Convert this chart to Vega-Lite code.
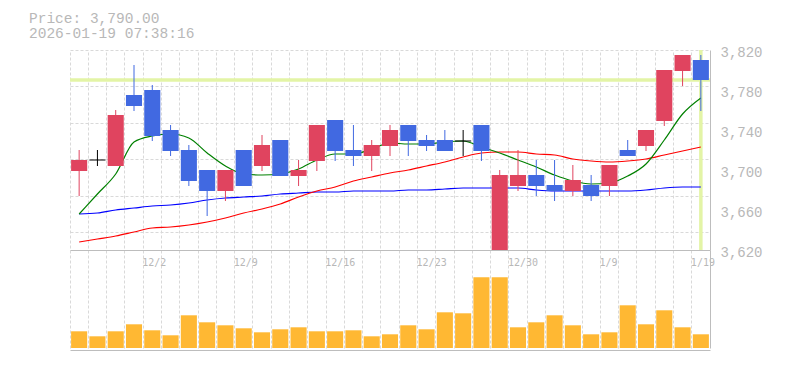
{
  "$schema": "https://vega.github.io/schema/vega-lite/v6.json",
  "width": 640,
  "height": 300,
  "autosize": {"type": "none"},
  "padding": {"left": 70, "top": 50, "right": 75, "bottom": 20},
  "background": "#ffffff",
  "config": {"view": {"stroke": null}},
  "title": {
    "text": ["Price: 3,790.00", "2026-01-19 07:38:16"],
    "anchor": "start",
    "frame": "group",
    "dx": -41,
    "offset": 4,
    "font": "Liberation Mono",
    "fontSize": 14.5,
    "fontWeight": "normal",
    "color": "#b8b8b8",
    "lineHeight": 15
  },
  "data": {
    "values": [
      {"d": "11/26", "o": 3699, "h": 3720, "l": 3674, "c": 3710, "v": 16700, "ma5": 3656, "ma25": 3628, "ma75": 3656},
      {"d": "11/27", "o": 3710, "h": 3720, "l": 3704, "c": 3710, "v": 11700, "ma5": 3676, "ma25": 3631, "ma75": 3657},
      {"d": "11/28", "o": 3704, "h": 3760, "l": 3704, "c": 3755, "v": 16700, "ma5": 3696, "ma25": 3634, "ma75": 3660},
      {"d": "12/1", "o": 3775, "h": 3805, "l": 3759, "c": 3764, "v": 23700, "ma5": 3728, "ma25": 3638, "ma75": 3662},
      {"d": "12/2", "o": 3780, "h": 3785, "l": 3729, "c": 3734, "v": 17700, "ma5": 3734, "ma25": 3642, "ma75": 3664},
      {"d": "12/3", "o": 3740, "h": 3745, "l": 3714, "c": 3719, "v": 12700, "ma5": 3736, "ma25": 3643, "ma75": 3665},
      {"d": "12/4", "o": 3720, "h": 3725, "l": 3684, "c": 3689, "v": 32700, "ma5": 3732, "ma25": 3645, "ma75": 3667},
      {"d": "12/5", "o": 3700, "h": 3700, "l": 3654, "c": 3679, "v": 25700, "ma5": 3717, "ma25": 3648, "ma75": 3670},
      {"d": "12/8", "o": 3679, "h": 3700, "l": 3669, "c": 3700, "v": 22700, "ma5": 3704, "ma25": 3652, "ma75": 3672},
      {"d": "12/9", "o": 3720, "h": 3720, "l": 3684, "c": 3684, "v": 19700, "ma5": 3696, "ma25": 3657, "ma75": 3673},
      {"d": "12/10", "o": 3704, "h": 3735, "l": 3699, "c": 3725, "v": 15700, "ma5": 3695, "ma25": 3661, "ma75": 3674},
      {"d": "12/11", "o": 3730, "h": 3730, "l": 3694, "c": 3694, "v": 18700, "ma5": 3696, "ma25": 3666, "ma75": 3676},
      {"d": "12/12", "o": 3694, "h": 3710, "l": 3684, "c": 3700, "v": 20700, "ma5": 3701, "ma25": 3673, "ma75": 3677},
      {"d": "12/15", "o": 3709, "h": 3745, "l": 3699, "c": 3745, "v": 16700, "ma5": 3710, "ma25": 3679, "ma75": 3678},
      {"d": "12/16", "o": 3750, "h": 3750, "l": 3709, "c": 3719, "v": 16700, "ma5": 3716, "ma25": 3683, "ma75": 3678},
      {"d": "12/17", "o": 3720, "h": 3745, "l": 3704, "c": 3714, "v": 17700, "ma5": 3716, "ma25": 3689, "ma75": 3679},
      {"d": "12/18", "o": 3714, "h": 3730, "l": 3699, "c": 3725, "v": 11700, "ma5": 3721, "ma25": 3693, "ma75": 3679},
      {"d": "12/19", "o": 3724, "h": 3745, "l": 3714, "c": 3740, "v": 13700, "ma5": 3727, "ma25": 3697, "ma75": 3679},
      {"d": "12/22", "o": 3745, "h": 3745, "l": 3714, "c": 3729, "v": 22700, "ma5": 3726, "ma25": 3700, "ma75": 3680},
      {"d": "12/23", "o": 3730, "h": 3735, "l": 3719, "c": 3724, "v": 18700, "ma5": 3726, "ma25": 3704, "ma75": 3680},
      {"d": "12/24", "o": 3730, "h": 3740, "l": 3719, "c": 3719, "v": 35700, "ma5": 3728, "ma25": 3708, "ma75": 3681},
      {"d": "12/25", "o": 3729, "h": 3740, "l": 3714, "c": 3729, "v": 34700, "ma5": 3729, "ma25": 3713, "ma75": 3682},
      {"d": "12/26", "o": 3745, "h": 3745, "l": 3709, "c": 3719, "v": 70700, "ma5": 3723, "ma25": 3717, "ma75": 3682},
      {"d": "12/29", "o": 3610, "h": 3700, "l": 3610, "c": 3695, "v": 70700, "ma5": 3717, "ma25": 3718, "ma75": 3682},
      {"d": "12/30", "o": 3684, "h": 3720, "l": 3679, "c": 3695, "v": 20700, "ma5": 3710, "ma25": 3718, "ma75": 3682},
      {"d": "1/5", "o": 3695, "h": 3710, "l": 3674, "c": 3684, "v": 25700, "ma5": 3703, "ma25": 3716, "ma75": 3680},
      {"d": "1/6", "o": 3685, "h": 3710, "l": 3669, "c": 3679, "v": 32700, "ma5": 3695, "ma25": 3715, "ma75": 3679},
      {"d": "1/7", "o": 3679, "h": 3705, "l": 3674, "c": 3690, "v": 22700, "ma5": 3689, "ma25": 3711, "ma75": 3679},
      {"d": "1/8", "o": 3685, "h": 3695, "l": 3669, "c": 3674, "v": 13700, "ma5": 3686, "ma25": 3709, "ma75": 3679},
      {"d": "1/9", "o": 3684, "h": 3705, "l": 3674, "c": 3705, "v": 15700, "ma5": 3687, "ma25": 3708, "ma75": 3679},
      {"d": "1/13", "o": 3720, "h": 3730, "l": 3714, "c": 3714, "v": 42700, "ma5": 3694, "ma25": 3709, "ma75": 3679},
      {"d": "1/14", "o": 3724, "h": 3740, "l": 3719, "c": 3740, "v": 23700, "ma5": 3706, "ma25": 3711, "ma75": 3680},
      {"d": "1/15", "o": 3749, "h": 3800, "l": 3744, "c": 3800, "v": 37700, "ma5": 3730, "ma25": 3715, "ma75": 3682},
      {"d": "1/16", "o": 3799, "h": 3815, "l": 3784, "c": 3815, "v": 20700, "ma5": 3756, "ma25": 3719, "ma75": 3683},
      {"d": "1/19", "o": 3810, "h": 3815, "l": 3759, "c": 3790, "v": 13700, "ma5": 3772, "ma25": 3723, "ma75": 3683}
    ]
  },
  "layer": [
    {
      "mark": {"type": "bar", "width": {"band": 0.88}, "color": "#ffb833"},
      "encoding": {
        "x": {
          "field": "d", "type": "ordinal", "sort": null,
          "scale": {"domain": ["11/26","11/27","11/28","12/1","12/2","12/3","12/4","12/5","12/8","12/9","12/10","12/11","12/12","12/15","12/16","12/17","12/18","12/19","12/22","12/23","12/24","12/25","12/26","12/29","12/30","1/5","1/6","1/7","1/8","1/9","1/13","1/14","1/15","1/16","1/19"], "paddingInner": 0, "paddingOuter": 0},
          "axis": {"orient": "bottom", "title": null, "labels": false, "ticks": false, "domain": true, "domainColor": "#bdbdbd", "grid": true, "gridColor": "#d9d9d9", "gridDash": [3, 2], "bandPosition": 0}
        },
        "y": {
          "field": "v", "type": "quantitative",
          "scale": {"domain": [0, 98000], "range": [298, 200], "nice": false, "zero": true},
          "axis": {"orient": "right", "title": null, "labels": false, "ticks": false, "grid": false, "domain": true, "domainColor": "#bdbdbd"}
        }
      }
    },
    {
      "transform": [{"filter": "datum.d == '1/19'"}],
      "layer": [
        {
          "mark": {"type": "rule", "color": "#e3f4a6", "strokeWidth": 3.5},
          "encoding": {
            "y": {
              "field": "c", "type": "quantitative",
              "scale": {"domain": [3620, 3820], "range": [200, 0], "nice": false, "zero": false},
              "axis": {"orient": "left", "title": null, "labels": false, "ticks": false, "domain": false, "grid": true, "gridColor": "#d9d9d9", "gridDash": [3, 2], "values": [3638.2, 3656.4, 3674.5, 3692.7, 3710.9, 3729.1, 3747.3, 3765.5, 3783.6, 3801.8, 3820]}
            }
          }
        },
        {
          "mark": {"type": "rule", "color": "#e3f4a6", "strokeWidth": 3.5},
          "encoding": {
            "x": {"field": "d", "type": "ordinal", "sort": null, "axis": null,
              "scale": {"domain": ["11/26","11/27","11/28","12/1","12/2","12/3","12/4","12/5","12/8","12/9","12/10","12/11","12/12","12/15","12/16","12/17","12/18","12/19","12/22","12/23","12/24","12/25","12/26","12/29","12/30","1/5","1/6","1/7","1/8","1/9","1/13","1/14","1/15","1/16","1/19"], "paddingInner": 0, "paddingOuter": 0}},
            "y": {"datum": 3620},
            "y2": {"datum": 3820}
          }
        }
      ]
    },
    {
      "encoding": {
        "x": {
          "field": "d", "type": "ordinal", "sort": null,
          "scale": {"domain": ["11/26","11/27","11/28","12/1","12/2","12/3","12/4","12/5","12/8","12/9","12/10","12/11","12/12","12/15","12/16","12/17","12/18","12/19","12/22","12/23","12/24","12/25","12/26","12/29","12/30","1/5","1/6","1/7","1/8","1/9","1/13","1/14","1/15","1/16","1/19"], "paddingInner": 0, "paddingOuter": 0},
          "axis": {
            "orient": "bottom", "offset": -100, "title": null, "ticks": false,
            "domain": true, "domainColor": "#bdbdbd",
            "grid": true, "gridColor": "#d9d9d9", "gridDash": [3, 2], "bandPosition": 0,
            "labelExpr": "indexof(['12/2','12/9','12/16','12/23','12/30','1/9','1/19'], datum.value) >= 0 ? datum.value : ''",
            "labelFont": "DejaVu Sans Mono", "labelFontSize": 10, "labelColor": "#b8b8b8",
            "labelAlign": "left", "labelBaseline": "top", "labelPadding": 7, "labelOffset": -10,
            "labelOverlap": false, "labelBound": false, "labelFlush": false, "labelAngle": 0
          }
        }
      },
      "layer": [
        {
          "mark": {"type": "line", "color": "#0000ff", "strokeWidth": 1.2, "interpolate": "monotone"},
          "encoding": {
            "y": {
              "field": "ma75", "type": "quantitative",
              "scale": {"domain": [3620, 3820], "range": [200, 0], "nice": false, "zero": false, "clamp": true},
              "axis": {
                "orient": "right", "title": null, "values": [3620, 3660, 3700, 3740, 3780, 3820], "format": ",d",
                "grid": false, "ticks": false, "domain": true, "domainColor": "#bdbdbd",
                "labelFont": "Liberation Mono", "labelFontSize": 14, "labelColor": "#b8b8b8",
                "labelPadding": 10, "labelOffset": 2, "labelFlush": false, "labelBound": false, "labelOverlap": false
              }
            }
          }
        },
        {
          "mark": {"type": "line", "color": "#ff0000", "strokeWidth": 1.2, "interpolate": "monotone"},
          "encoding": {"y": {"field": "ma25", "type": "quantitative"}}
        },
        {
          "mark": {"type": "line", "color": "#008000", "strokeWidth": 1.2, "interpolate": "monotone"},
          "encoding": {"y": {"field": "ma5", "type": "quantitative"}}
        },
        {
          "mark": {"type": "rule", "strokeWidth": 1},
          "encoding": {
            "y": {"field": "h", "type": "quantitative"},
            "y2": {"field": "l"},
            "color": {"condition": [{"test": "datum.c > datum.o", "value": "#e0445f"}, {"test": "datum.c < datum.o", "value": "#4169e1"}], "value": "#000000"}
          }
        },
        {
          "mark": {"type": "bar", "width": {"band": 0.88}},
          "encoding": {
            "y": {"field": "o", "type": "quantitative"},
            "y2": {"field": "c"},
            "color": {"condition": [{"test": "datum.c > datum.o", "value": "#e0445f"}, {"test": "datum.c < datum.o", "value": "#4169e1"}], "value": "#000000"},
            "stroke": {"condition": [{"test": "datum.c > datum.o", "value": "#e0445f"}, {"test": "datum.c < datum.o", "value": "#4169e1"}], "value": "#000000"},
            "strokeWidth": {"condition": {"test": "datum.c == datum.o", "value": 1.2}, "value": 0}
          }
        }
      ]
    }
  ],
  "resolve": {"scale": {"y": "independent"}, "axis": {"x": "independent", "y": "independent"}}
}
